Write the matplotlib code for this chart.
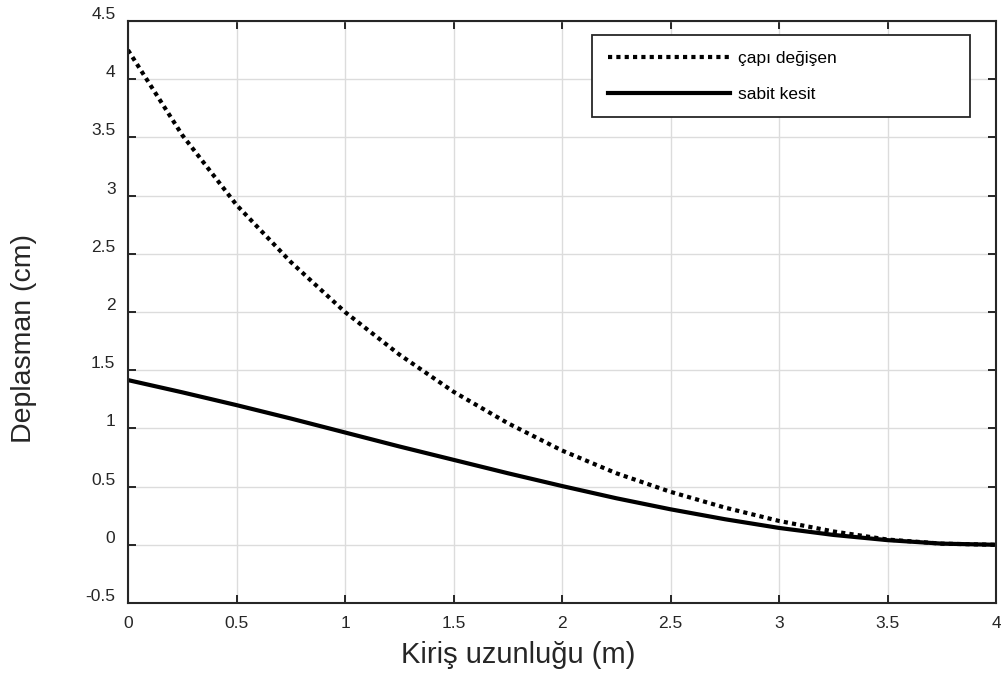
import matplotlib
matplotlib.use("Agg")
import matplotlib.pyplot as plt
import matplotlib.transforms as mtransforms

# Data
x_vals = [0.0, 0.25, 0.5, 0.75, 1.0, 1.25, 1.5, 1.75, 2.0, 2.25, 2.5, 2.75, 3.0, 3.25, 3.5, 3.75, 4.0]
capi_degisen = [4.25, 3.52, 2.92, 2.43, 2.00, 1.635, 1.315, 1.045, 0.81, 0.615, 0.455, 0.32, 0.205, 0.115, 0.045, 0.010, 0.0]
sabit_kesit = [1.415, 1.31, 1.20, 1.085, 0.965, 0.845, 0.73, 0.615, 0.505, 0.40, 0.305, 0.22, 0.145, 0.085, 0.04, 0.01, 0.0]

x_ticks = [0, 0.5, 1, 1.5, 2, 2.5, 3, 3.5, 4]
x_tick_labels = ["0", "0.5", "1", "1.5", "2", "2.5", "3", "3.5", "4"]
y_ticks = [-0.5, 0, 0.5, 1, 1.5, 2, 2.5, 3, 3.5, 4, 4.5]
y_tick_labels = ["-0.5", "0", "0.5", "1", "1.5", "2", "2.5", "3", "3.5", "4", "4.5"]

plt.rcParams['font.family'] = ['Liberation Sans', 'DejaVu Sans']

fig = plt.figure(figsize=(10.01, 6.82), dpi=100)
ax = fig.add_axes([128 / 1001, 79 / 682, 868 / 1001, 582 / 682])

ax.plot(x_vals, capi_degisen, color='black', lw=3.0, linestyle=(0, (1.0, 1.0)),
        dash_capstyle='butt', solid_joinstyle='round', label='çapı değişen')
ax.plot(x_vals, sabit_kesit, color='black', lw=3.0, linestyle='-', label='sabit kesit')

ax.set_xlim(0, 4)
ax.set_ylim(-0.5, 4.5)
ax.set_xticks(x_ticks)
ax.set_xticklabels(x_tick_labels)
ax.set_yticks(y_ticks)
ax.set_yticklabels(y_tick_labels)

ax.grid(True, color='#dcdcdc', lw=1.0)
ax.set_axisbelow(True)
ax.tick_params(direction='in', length=6, width=1.4, color='#262626', labelcolor='#262626',
               labelsize=12.5, top=True, right=True, pad=9)
for sp in ax.spines.values():
    sp.set_color('#262626')
    sp.set_linewidth(1.5)

# Shift y tick labels slightly upward as in the reference
offset = mtransforms.ScaledTranslation(0, 8 / 100, fig.dpi_scale_trans)
for lab in ax.get_yticklabels():
    lab.set_transform(lab.get_transform() + offset)

ax.set_xlabel('Kiriş uzunluğu (m)', fontsize=21, color='#262626')
ax.set_ylabel('Deplasman (cm)', fontsize=20.5, color='#262626')
ax.xaxis.set_label_coords(0.45, -0.066)
ax.yaxis.set_label_coords(-0.105, 0.454)

leg = ax.legend(loc='upper left', bbox_to_anchor=(0.535, 0.836, 0.435, 0.140),
                mode='expand', borderaxespad=0, fontsize=12.5, handlelength=7,
                handletextpad=0.5, labelspacing=1.2, borderpad=0.9,
                fancybox=False, framealpha=1, edgecolor='#262626')
leg.get_frame().set_linewidth(1.3)

fig.savefig('out.png', dpi=100)
